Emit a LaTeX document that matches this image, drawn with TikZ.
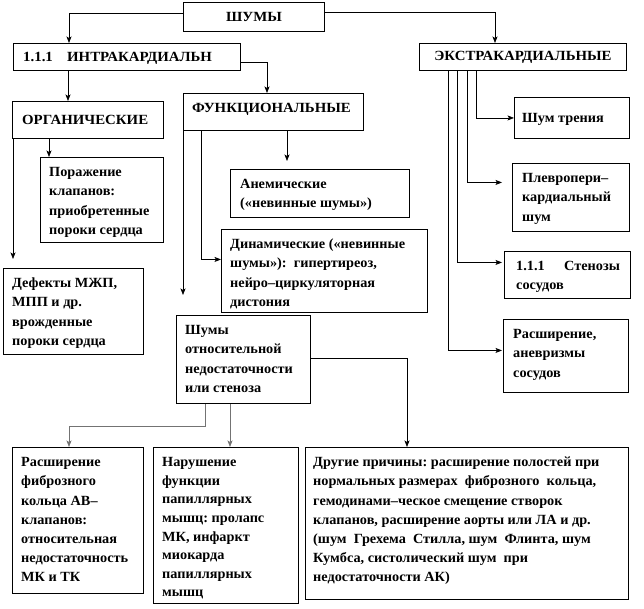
\documentclass[tikz,border=0pt]{standalone}
\usepackage{fontspec}
\setmainfont{Liberation Serif}
\newfontfamily\bfam[FakeStretch=1.02]{Liberation Serif Bold}
\newfontfamily\cfam[FakeStretch=1.06]{Liberation Serif Bold}
\usetikzlibrary{arrows.meta,calc}
\newcommand\bfnt{\bfam\fontsize{14pt}{19.2pt}\selectfont\frenchspacing}
\newcommand\nfnt{\bfam\fontsize{14pt}{18.6pt}\selectfont\frenchspacing}
\newcommand\cfnt{\cfam\fontsize{14pt}{19.2pt}\selectfont\frenchspacing}
\newcommand\st{\rule{0pt}{10pt}}
\newcommand\tbox[7][9]{%
  \node[box, minimum width=#5pt, minimum height=#6pt] (#2) at (#3,#4) {};
  \node[txt] (#2-t) at ([xshift=#1pt,yshift=-9.5pt]#2.north west) {\st#7};
}
\newcommand\lbox[6]{%
  \node[box, minimum width=#4pt, minimum height=#5pt] (#1) at (#2,#3) {};
  \node[txt, font=\cfnt, anchor=base west] (#1-t) at ([xshift=10pt,yshift=-4.5pt]#1.west) {#6};
}
\begin{document}
\begin{tikzpicture}[x=1pt,y=-1pt,
  box/.style={draw, line width=0.9pt, inner sep=0pt, anchor=north west},
  txt/.style={inner sep=0pt, anchor=north west, align=left, font=\bfnt},
  conn/.style={line width=0.7pt, -{Stealth[length=6.5pt,width=5pt,inset=1.5pt]}},
  gconn/.style={conn, draw=black!55}]
\useasboundingbox (0,0) rectangle (644,608);
% top level
\node[box, minimum width=141pt, minimum height=29pt, font=\cfnt] (sh) at (183,2) {ШУМЫ};
\lbox{intra}{13}{43}{227}{27}{\makebox[44pt][l]{1.1.1}ИНТРАКАРДИАЛЬН}
\node[box, minimum width=207pt, minimum height=27pt, font=\cfnt] (ext) at (419,43) {ЭКСТРАКАРДИАЛЬНЫЕ};
\lbox{org}{12}{101}{151}{37}{ОРГАНИЧЕСКИЕ}
\node[box, minimum width=180pt, minimum height=37pt] (func) at (183,93) {};
\node[txt, font=\cfnt, anchor=base west] (func-t) at ([xshift=9pt,yshift=-19pt]func.north west) {ФУНКЦИОНАЛЬНЫЕ};
\node[box, minimum width=115pt, minimum height=41pt] (tren) at (514,97) {};
\node[txt, anchor=base west] (tren-t) at ([xshift=8pt,yshift=-4.5pt]tren.west) {Шум трения};
% second level
\tbox{por}{40}{157}{123}{85}{Поражение\\клапанов:\\приобретенные\\пороки сердца}
\tbox[10]{anem}{230}{169}{179}{48}{Анемические\\(«невинные шумы»)}
\tbox[10]{plev}{512}{163}{117}{68}{Плевропери–\\кардиальный\\шум}
\tbox{din}{221}{229}{206}{83}{Динамические («невинные\\шумы»):\ \ гипертиреоз,\\нейро–циркуляторная\\дистония}
\tbox[12]{sten}{504}{251}{126}{47}{\makebox[48pt][l]{1.1.1}Стенозы\\сосудов}
\tbox{def}{3}{268}{140}{86}{Дефекты МЖП,\\МПП и др.\\врожденные\\пороки сердца}
\tbox{shotn}{176}{315}{134}{88}{Шумы\\относительной\\недостаточности\\или стеноза}
\tbox[10]{rasan}{503}{319}{125}{73}{Расширение,\\аневризмы\\сосудов}
% bottom
\tbox{rasf}{12}{447}{131}{146}{Расширение\\фиброзного\\кольца АВ–\\клапанов:\\относительная\\недостаточность\\МК и ТК}
\node[box, minimum width=145pt, minimum height=156pt] (nar) at (153,447) {};
\node[txt, font=\nfnt] (nar-t) at ([xshift=9pt,yshift=-9.5pt]nar.north west) {\st Нарушение\\функции\\папиллярных\\мышц: пролапс\\МК, инфаркт\\миокарда\\папиллярных\\мышц};
\tbox[8]{dr}{305}{447}{323}{152}{Другие причины: расширение полостей при\\нормальных размерах\ \ фиброзного\ \ кольца,\\гемодинами–ческое смещение створок\\клапанов, расширение аорты или ЛА и др.\\(шум\ \ Грехема\ \ Стилла, шум\ \ Флинта, шум\\Кумбса, систолический шум\ \ при\\недостаточности АК)}
% connectors
\draw[conn] ([yshift=3.5pt]sh.west) -| ([xshift=56pt]intra.north west);
\draw[conn] ([yshift=4.5pt]sh.east) -| ([xshift=76pt]ext.north west);
\draw[conn] ([xshift=55pt]intra.south west) -- ([xshift=55pt]intra.south west |- org.north);
\draw[conn] ([yshift=-5.5pt]intra.east) -| ([xshift=84pt]func.north west);
\draw[conn, shorten >=9pt] ([xshift=1pt]org.south west) -- ([xshift=1pt]org.south west |- def.north);
\draw[conn] ([xshift=37pt]org.south west) -- ([xshift=37pt]org.south west |- por.north);
\draw[conn, shorten >=20pt] (func.south west) -- (func.south west |- shotn.north);
\draw[conn] ([xshift=18pt]func.south west) |- ([yshift=11.5pt]din.west);
\draw[conn, shorten >=8pt] ([xshift=104pt]func.south west) -- ([xshift=104pt]func.south west |- anem.north);
% extra
\draw[conn] ([xshift=57pt]ext.south west) |- (tren.west);
\draw[conn, shorten >=10pt] ([xshift=48pt]ext.south west) |- ([yshift=15pt]plev.west);
\draw[conn, shorten >=2pt] ([xshift=38pt]ext.south west) |- ([yshift=12.5pt]sten.west);
\draw[conn, shorten >=1pt] ([xshift=29pt]ext.south west) |- ([yshift=5.5pt]rasan.west);
% relative murmurs
\coordinate (bend) at ([xshift=29pt,yshift=-22pt]shotn.south west);
\draw[gconn] ([xshift=29pt]shotn.south west) -- (bend) -| ([xshift=57pt]rasf.north west);
\draw[gconn] ([xshift=54pt]shotn.south west) -- ([xshift=54pt]shotn.south west |- nar.north);
\draw[conn] ([yshift=1pt]shotn.east) -| ([xshift=102pt]dr.north west);
\end{tikzpicture}
\end{document}
